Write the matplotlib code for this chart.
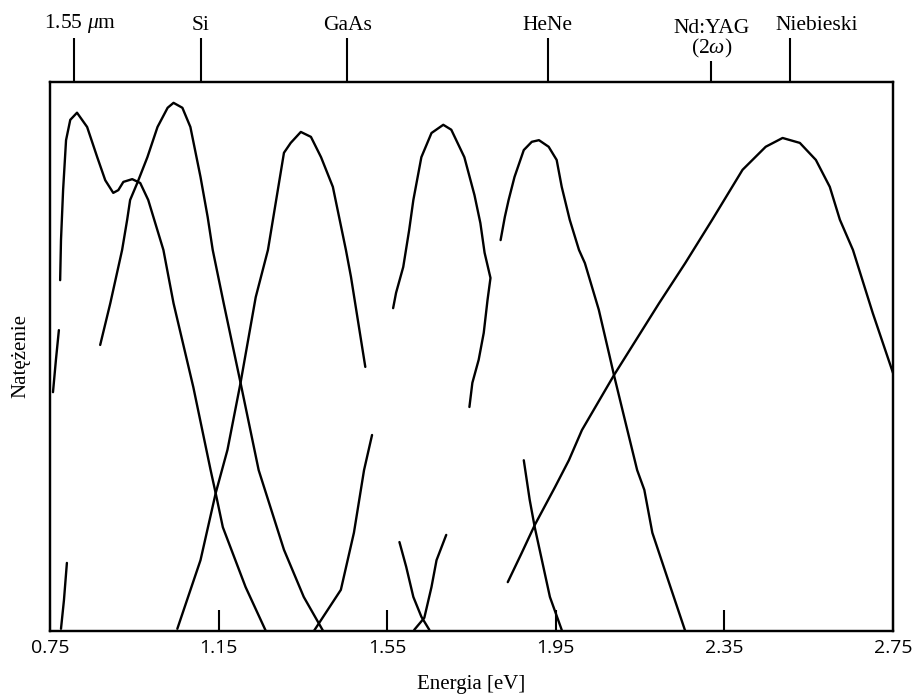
import numpy as np
import matplotlib.pyplot as plt
from matplotlib.transforms import ScaledTranslation

plt.rcParams['mathtext.fontset'] = 'custom'
plt.rcParams['mathtext.rm'] = 'Liberation Serif'
plt.rcParams['mathtext.it'] = 'Liberation Serif:italic'

# energia [eV], natezenie (0-100); linie sa poprzerywane jak w skanie
e_a1 = [0.776, 0.783, 0.790]
i_a1 = [0.4, 5.6, 12.4]
e_a2 = [0.757, 0.764, 0.771]
i_a2 = [43.5, 49.4, 54.8]
e_a = [0.774, 0.776, 0.781, 0.788, 0.798, 0.814, 0.838, 0.862, 0.881, 0.900, 0.912, 0.924,
       0.945, 0.964, 0.983, 1.019, 1.043, 1.090, 1.131, 1.143, 1.160, 1.214, 1.262]
i_a = [63.9, 71.2, 80.3, 89.4, 93.1, 94.4, 91.8, 86.3, 82.1, 79.8, 80.3, 81.8,
       82.3, 81.6, 78.5, 69.4, 59.7, 44.4, 29.3, 25.1, 18.9, 8.0, 0.0]

e_si = [0.869, 0.893, 0.921, 0.933, 0.940, 0.957, 0.981, 1.005, 1.029, 1.043, 1.064, 1.083,
        1.107, 1.124, 1.136, 1.162, 1.202, 1.245, 1.305, 1.352, 1.398]
i_si = [52.1, 59.7, 69.4, 74.9, 78.5, 81.6, 86.3, 91.8, 95.3, 96.2, 95.3, 91.8,
        82.7, 75.4, 69.4, 59.7, 45.2, 29.3, 14.8, 6.2, 0.0]

e_gaas = [1.052, 1.107, 1.143, 1.171, 1.202, 1.238, 1.267, 1.305, 1.321, 1.345, 1.369, 1.393,
          1.421, 1.452, 1.464, 1.498]
i_gaas = [0.4, 12.9, 25.1, 33.0, 45.2, 60.8, 69.4, 87.1, 88.9, 90.9, 90.0, 86.3,
          80.9, 69.4, 64.5, 48.1]

e_c1 = [1.376, 1.440, 1.471, 1.495, 1.514]
i_c1 = [0.0, 7.5, 17.9, 29.3, 35.7]
e_c = [1.564, 1.571, 1.588, 1.602, 1.612, 1.631, 1.655, 1.683, 1.702, 1.733, 1.757, 1.771,
       1.781, 1.795, 1.788, 1.779, 1.767, 1.752, 1.745]
i_c = [58.8, 61.6, 66.3, 73.0, 78.5, 86.3, 90.7, 92.2, 91.3, 86.3, 79.4, 74.3,
       68.9, 64.3, 60.3, 54.3, 49.4, 45.2, 40.8]

e_g1 = [1.579, 1.595, 1.612, 1.631, 1.650]
i_g1 = [16.2, 11.7, 6.2, 2.6, 0.2]
e_g2 = [1.614, 1.638, 1.655, 1.667, 1.690]
i_g2 = [0.2, 2.4, 8.0, 12.9, 17.5]

e_hene = [1.819, 1.829, 1.838, 1.852, 1.874, 1.893, 1.910, 1.933, 1.952, 1.964, 1.983, 2.005,
          2.019, 2.052, 2.076, 2.088, 2.114, 2.143, 2.160, 2.179, 2.219, 2.257]
i_hene = [71.2, 75.4, 78.5, 82.7, 87.6, 89.1, 89.4, 88.2, 85.8, 80.9, 74.9, 69.4,
          67.0, 58.5, 50.6, 46.6, 38.4, 29.3, 25.7, 17.9, 8.7, 0.0]

e_f = [1.874, 1.888, 1.900, 1.917, 1.936, 1.964]
i_f = [31.1, 23.9, 18.9, 12.9, 6.2, 0.2]

e_blue = [1.836, 1.869, 1.900, 1.948, 1.981, 2.012, 2.088, 2.195, 2.257, 2.321, 2.393, 2.448,
          2.488, 2.529, 2.567, 2.600, 2.624, 2.655, 2.702, 2.750]
i_blue = [8.9, 14.2, 19.3, 26.2, 31.1, 36.6, 46.6, 59.7, 67.0, 74.9, 84.0, 88.2,
          89.8, 88.9, 85.8, 80.9, 74.9, 69.4, 57.9, 47.0]

strokes = [(e_a1, i_a1), (e_a2, i_a2), (e_a, i_a), (e_si, i_si), (e_gaas, i_gaas),
           (e_c1, i_c1), (e_c, i_c), (e_g1, i_g1), (e_g2, i_g2), (e_hene, i_hene),
           (e_f, i_f), (e_blue, i_blue)]

x_ticks = [0.75, 1.15, 1.55, 1.95, 2.35, 2.75]
top_major = [0.807, 1.107, 1.455, 1.931, 2.505]
top_major_labels = ['1.55 $\\mu$m', 'Si', 'GaAs', 'HeNe', 'Niebieski']
top_minor = [2.319]
top_minor_labels = ['Nd:YAG\n(2$\\omega$)']

fig = plt.figure(figsize=(9.13, 6.97), dpi=100)
ax = fig.add_axes([0.0548, 0.0947, 0.9233, 0.7877])

for e, i in strokes:
    ax.plot(e, i, color='black', lw=1.7, solid_capstyle='round', solid_joinstyle='round')

ax.set_xlim(0.75, 2.75)
ax.set_ylim(0, 100)
ax.set_yticks([])
ax.set_xticks(x_ticks)
ax.set_xticklabels(['%.2f' % v for v in x_ticks], family='Open Sans', fontsize=14)
ax.tick_params(axis='x', direction='in', length=15, width=1.5, pad=6)
for s in ax.spines.values():
    s.set_linewidth(1.6)

ax.set_xlabel('Energia [eV]', family='Liberation Serif', fontsize=15, labelpad=13)
ax.set_ylabel('Natężenie', family='Liberation Serif', fontsize=15, labelpad=14)

ax2 = ax.twiny()
ax2.set_xlim(ax.get_xlim())
ax2.set_xticks(top_major)
ax2.set_xticklabels(top_major_labels, family='Liberation Serif', fontsize=15.5)
ax2.set_xticks(top_minor, minor=True)
ax2.set_xticklabels(top_minor_labels, minor=True, family='Liberation Serif', fontsize=15.5)
ax2.tick_params(axis='x', which='major', direction='out', length=32, width=1.5, pad=2)
ax2.tick_params(axis='x', which='minor', direction='out', length=15, width=1.5, pad=1)
for s in ax2.spines.values():
    s.set_linewidth(1.6)

ax2.get_xticklabels(minor=True)[0].set_linespacing(0.95)
lab = ax2.get_xticklabels()[-1]
lab.set_transform(lab.get_transform() + ScaledTranslation(0.27, 0, fig.dpi_scale_trans))
lab = ax2.get_xticklabels()[0]
lab.set_transform(lab.get_transform() + ScaledTranslation(0.06, 0, fig.dpi_scale_trans))

fig.savefig('out.png', dpi=100)
